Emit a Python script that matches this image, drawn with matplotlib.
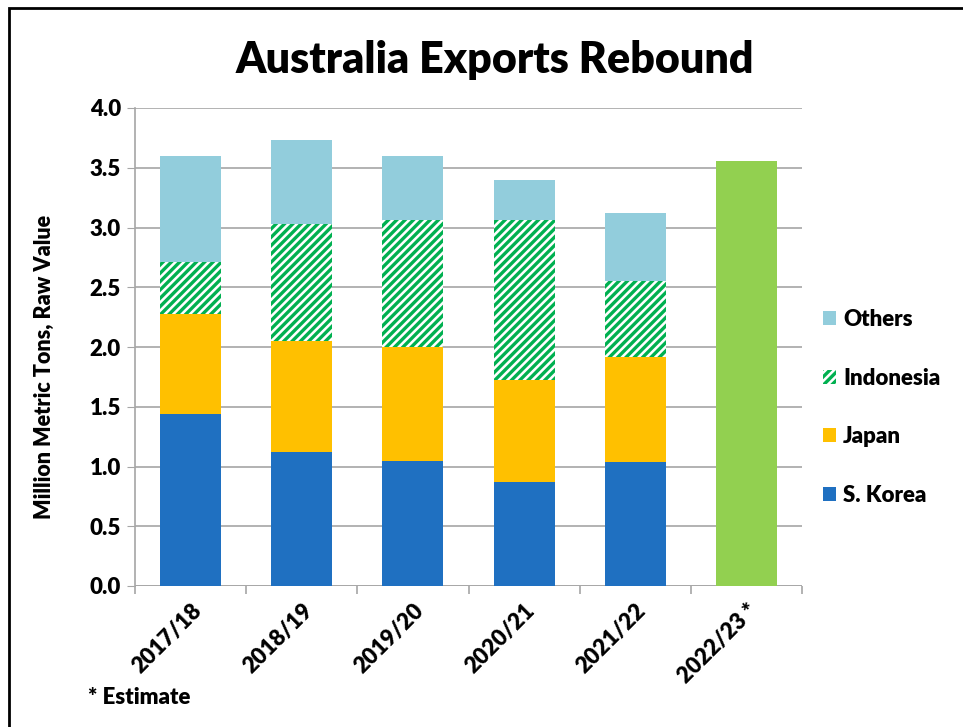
import matplotlib
matplotlib.use("Agg")
import matplotlib.pyplot as plt
import numpy as np
from matplotlib.patches import Rectangle

categories = ["2017/18", "2018/19", "2019/20", "2020/21", "2021/22", "2022/23 *"]
s_korea = [1.44, 1.12, 1.05, 0.87, 1.04]
japan = [0.84, 0.93, 0.95, 0.85, 0.88]
indonesia = [0.43, 0.98, 1.06, 1.34, 0.63]
others = [0.89, 0.70, 0.54, 0.34, 0.57]
estimate = [3.56]

c_sk = "#1F70C1"
c_jp = "#FFC000"
c_id = "#00B050"
c_ot = "#92CDDC"
c_est = "#92D050"

FW = 'heavy'
plt.rcParams['font.family'] = ['Lato', 'DejaVu Sans']
plt.rcParams['font.weight'] = FW
plt.rcParams['hatch.linewidth'] = 2.4

fig = plt.figure(figsize=(9.63, 7.27), dpi=100)
ax = fig.add_axes([135/963, 1-586/727, (802-135)/963, (586-108)/727])

x = np.arange(len(categories))
xs = x[:5]
w = 0.55
b1 = np.array(s_korea)
b2 = b1 + np.array(japan)
b3 = b2 + np.array(indonesia)
ax.bar(xs, s_korea, w, color=c_sk, zorder=3)
ax.bar(xs, japan, w, bottom=b1, color=c_jp, zorder=3)
ax.bar(xs, indonesia, w, bottom=b2, color="white", edgecolor=c_id, hatch="////", linewidth=0, zorder=3)
ax.bar(xs, others, w, bottom=b3, color=c_ot, zorder=3)
ax.bar(x[5:], estimate, w, color=c_est, zorder=3)

ax.set_xlim(-0.5, 5.5)
ax.set_ylim(0, 4.0)
yt = np.arange(0, 4.01, 0.5)
ax.set_yticks(yt)
ax.set_yticklabels([f"{v:.1f}" for v in yt], fontsize=16, fontweight=FW)
ax.yaxis.grid(True, color="#A6A6A6", linewidth=1.2, zorder=0)
ax.set_axisbelow(True)
for s in ["top", "right", "bottom"]:
    ax.spines[s].set_visible(False)
ax.spines["left"].set_color("#A6A6A6")
ax.spines["left"].set_linewidth(1.2)
ax.axhline(0, color="#A6A6A6", linewidth=1.2, zorder=2)
ax.tick_params(axis='y', length=6, color="#A6A6A6", pad=4)

ax.set_xticks(x)
ax.set_xticklabels(categories, rotation=45, ha='right', rotation_mode='anchor', fontsize=16, fontweight=FW)
ax.tick_params(axis='x', length=0, pad=10)
ax.set_xticks(np.arange(-0.5, 6.0, 1.0), minor=True)
ax.tick_params(axis='x', which='minor', length=6, color="#A6A6A6", width=1.2)

ax.set_ylabel("Million Metric Tons, Raw Value", fontsize=15.5, fontweight=FW)
ax.yaxis.set_label_coords((55-135)/667, (586-367)/478)

fig.text(495/963, 1-60/727, "Australia Exports Rebound", fontsize=31, fontweight=FW, ha='center', va='center')
fig.text(88/963, 1-697/727, "* Estimate", fontsize=16, fontweight=FW, ha='left', va='center')

handles = [
    Rectangle((0, 0), 1, 1, facecolor=c_ot, linewidth=0),
    Rectangle((0, 0), 1, 1, facecolor="white", edgecolor=c_id, hatch="////", linewidth=0),
    Rectangle((0, 0), 1, 1, facecolor=c_jp, linewidth=0),
    Rectangle((0, 0), 1, 1, facecolor=c_sk, linewidth=0),
]
leg = fig.legend(handles, ["Others", "Indonesia", "Japan", "S. Korea"],
                 loc='center left', bbox_to_anchor=(823/963, 1-407.5/727),
                 frameon=False, prop={'size': 16, 'weight': FW},
                 handlelength=0.6, handleheight=0.6, handletextpad=0.3,
                 labelspacing=1.69, borderpad=0, borderaxespad=0)

border = Rectangle((9/963, -0.1), 1.2, 1-8/727+0.1, transform=fig.transFigure,
                   fill=False, edgecolor="black", linewidth=2)
fig.add_artist(border)

fig.savefig("out.png", dpi=100)
